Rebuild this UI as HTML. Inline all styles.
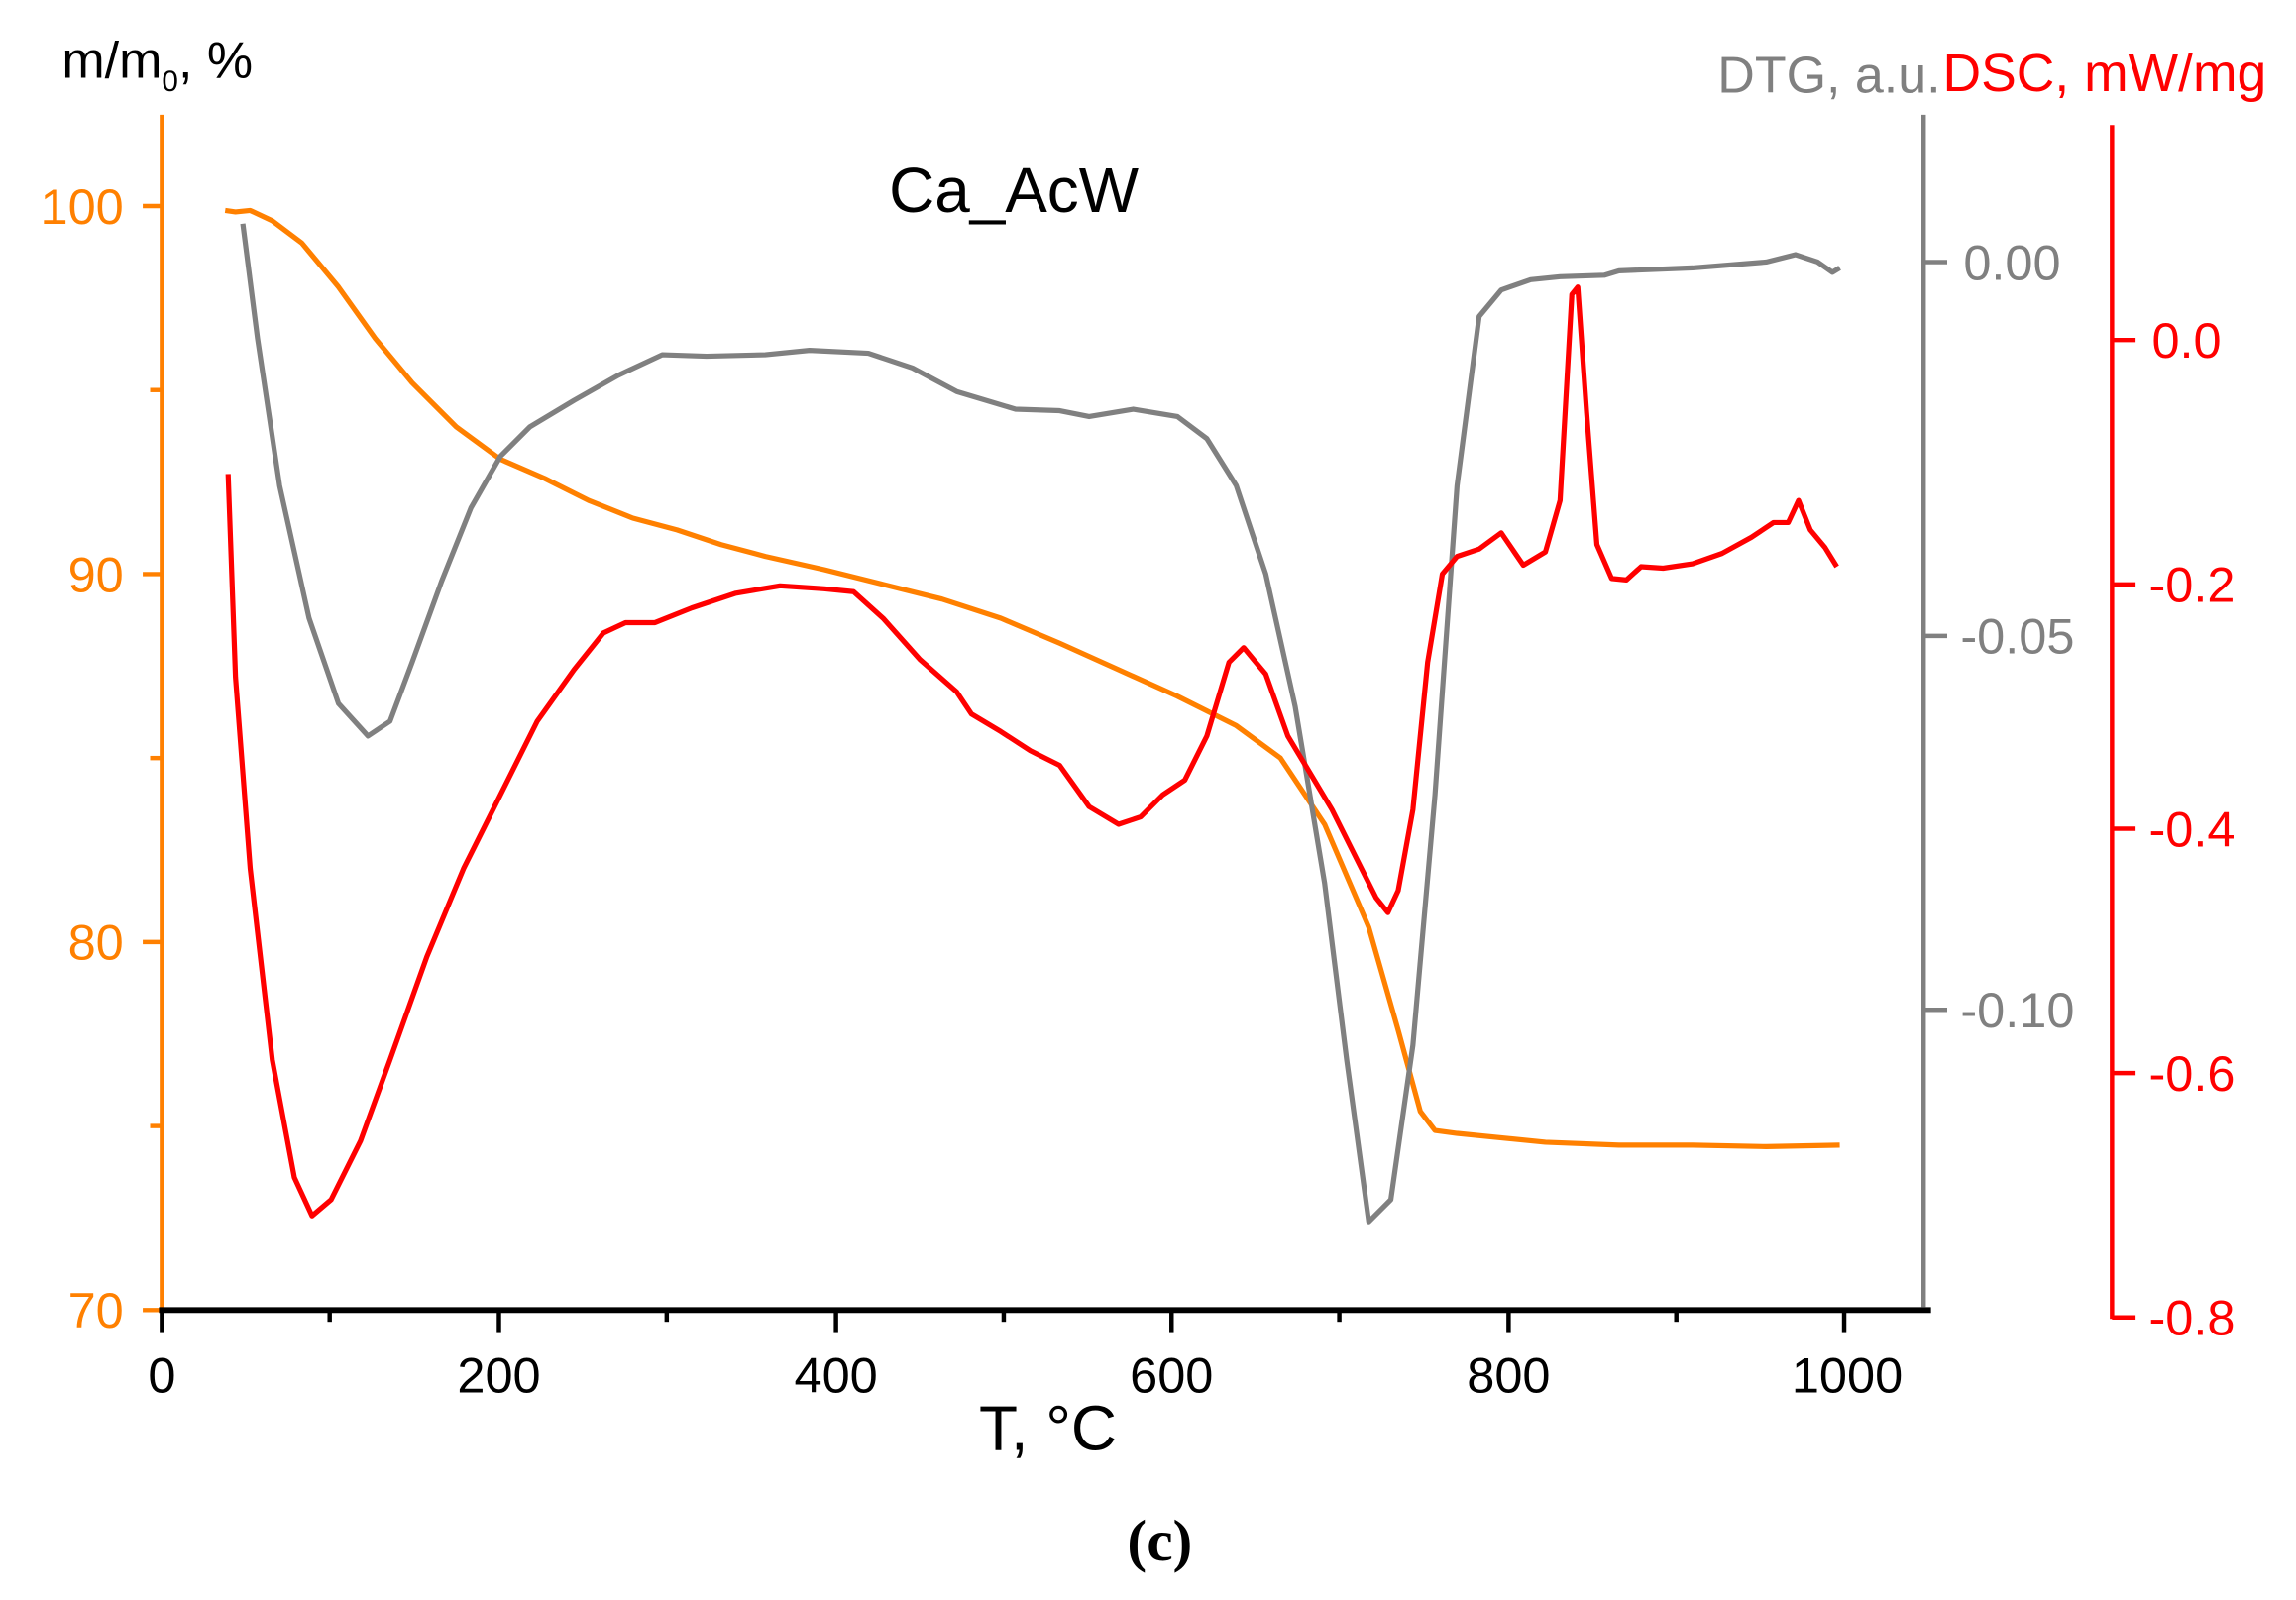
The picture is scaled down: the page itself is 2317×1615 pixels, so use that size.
<!DOCTYPE html>
<html><head><meta charset="utf-8"><style>html,body{margin:0;padding:0;background:#fff}svg{display:block}</style></head>
<body>
<svg width="2317" height="1615" viewBox="0 0 1560 1087" preserveAspectRatio="none" xmlns="http://www.w3.org/2000/svg" font-family="Liberation Sans, sans-serif">
<rect width="1560" height="1087" fill="#fff"/>
<!-- Orange axis -->
<g stroke="#FF8000" stroke-width="3" fill="none">
<line x1="110" y1="78" x2="110" y2="891"/>
<line x1="97" y1="140" x2="110" y2="140"/><line x1="97" y1="390" x2="110" y2="390"/><line x1="97" y1="640" x2="110" y2="640"/><line x1="97" y1="890" x2="110" y2="890"/>
<line x1="102" y1="265" x2="110" y2="265"/><line x1="102" y1="515" x2="110" y2="515"/><line x1="102" y1="765" x2="110" y2="765"/>
</g>
<g fill="#FF8000" font-size="34" text-anchor="end">
<text x="84" y="152">100</text><text x="84" y="402">90</text><text x="84" y="652">80</text><text x="84" y="902">70</text>
</g>
<!-- X axis -->
<g stroke="#000" stroke-width="4">
<line x1="108" y1="890" x2="1312" y2="890"/>
</g>
<g stroke="#000" stroke-width="3">
<line x1="110" y1="890" x2="110" y2="905"/><line x1="339" y1="890" x2="339" y2="905"/><line x1="568" y1="890" x2="568" y2="905"/><line x1="796" y1="890" x2="796" y2="905"/><line x1="1025" y1="890" x2="1025" y2="905"/><line x1="1253" y1="890" x2="1253" y2="905"/>
<line x1="224" y1="890" x2="224" y2="898"/><line x1="453" y1="890" x2="453" y2="898"/><line x1="682" y1="890" x2="682" y2="898"/><line x1="910" y1="890" x2="910" y2="898"/><line x1="1139" y1="890" x2="1139" y2="898"/>
</g>
<g fill="#000" font-size="34" text-anchor="middle">
<text x="110" y="946">0</text><text x="339" y="946">200</text><text x="568" y="946">400</text><text x="796" y="946">600</text><text x="1025" y="946">800</text><text x="1255" y="946">1000</text>
<text x="712" y="985" font-size="43">T, °C</text>
</g>
<text x="788" y="1060" font-family="Liberation Serif, serif" font-weight="bold" font-size="40" text-anchor="middle">(c)</text>
<text x="42" y="53" font-size="35">m/m<tspan font-size="20" dy="9">0</tspan><tspan dy="-9">, %</tspan></text>
<text x="604" y="144" font-size="43">Ca_AcW</text>
<!-- Gray axis -->
<g stroke="#808080" stroke-width="3">
<line x1="1307" y1="78" x2="1307" y2="888"/>
<line x1="1307" y1="178" x2="1323" y2="178"/><line x1="1307" y1="432" x2="1323" y2="432"/><line x1="1307" y1="686" x2="1323" y2="686"/>
</g>
<g fill="#808080" font-size="34"><text x="1334" y="190">0.00</text><text x="1332" y="444">-0.05</text><text x="1332" y="698">-0.10</text></g>
<text x="1167" y="63" fill="#808080" font-size="35">DTG, a.u.</text>
<!-- Red axis -->
<g stroke="#FF0000" stroke-width="3">
<line x1="1435" y1="85" x2="1435" y2="896"/>
<line x1="1435" y1="231" x2="1451" y2="231"/><line x1="1435" y1="397" x2="1451" y2="397"/><line x1="1435" y1="563" x2="1451" y2="563"/><line x1="1435" y1="729" x2="1451" y2="729"/><line x1="1435" y1="895" x2="1451" y2="895"/>
</g>
<g fill="#FF0000" font-size="34"><text x="1462" y="243">0.0</text><text x="1460" y="409">-0.2</text><text x="1460" y="575">-0.4</text><text x="1460" y="741">-0.6</text><text x="1460" y="907">-0.8</text></g>
<text x="1320" y="62" fill="#FF0000" font-size="36">DSC, mW/mg</text>
<!-- Orange curve -->
<polyline fill="none" stroke="#FF8000" stroke-width="3.5" stroke-linejoin="round" points="153,143 160,144 170,143 185,150 205,165 230,195 255,230 280,260 310,290 340,312 370,325 400,340 430,352 460,360 490,370 520,378 560,387 600,397 640,407 680,420 720,437 760,455 800,473 840,493 870,515 900,560 930,630 950,700 965,755 975,768 990,770 1050,776 1100,778 1150,778 1200,779 1250,778"/>
<!-- Gray curve -->
<polyline fill="none" stroke="#808080" stroke-width="3.5" stroke-linejoin="round" points="165,152 175,230 190,330 210,420 230,478 250,500 265,490 280,450 300,395 320,345 340,310 360,290 390,272 420,255 450,241 480,242 520,241 550,238 590,240 620,250 650,266 690,278 720,279 740,283 770,278 800,283 820,298 840,330 860,390 880,480 900,600 915,720 930,830 945,815 960,710 975,540 990,330 1005,215 1020,197 1040,190 1060,188 1090,187 1100,184 1150,182 1200,178 1220,173 1235,178 1245,185 1250,182"/>
<!-- Red curve -->
<polyline fill="none" stroke="#FF0000" stroke-width="3.5" stroke-linejoin="round" points="155,322 160,460 170,590 185,720 200,800 212,826 225,815 245,775 265,720 290,650 315,590 340,540 365,490 390,455 410,430 425,423 445,423 470,413 500,403 530,398 560,400 580,402 600,420 625,448 650,470 660,485 680,497 700,510 720,520 740,548 760,560 775,555 790,540 805,530 820,500 835,450 845,440 860,458 875,500 890,525 905,550 920,580 935,610 943,620 950,605 960,550 970,450 980,390 990,378 1005,373 1020,362 1035,384 1050,375 1060,340 1068,200 1072,195 1078,280 1085,370 1095,393 1105,394 1115,385 1130,386 1150,383 1170,376 1190,365 1205,355 1215,355 1222,340 1230,360 1240,372 1248,385"/>
</svg>
</body></html>
